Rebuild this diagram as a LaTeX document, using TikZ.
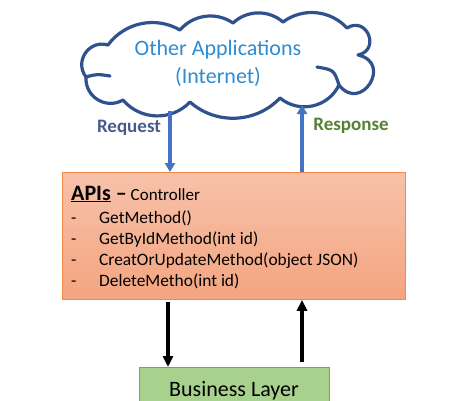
\documentclass[tikz,border=0pt]{standalone}
\usepackage{fontspec}
\setmainfont{Carlito}
\usetikzlibrary{arrows.meta, calc, positioning}
\definecolor{CloudLine}{RGB}{47,82,143}
\definecolor{CloudText}{RGB}{46,140,210}
\definecolor{ReqBlue}{RGB}{68,114,196}
\definecolor{ReqText}{RGB}{72,92,140}
\definecolor{RespGreen}{RGB}{84,130,53}
\definecolor{ApiTop}{RGB}{247,194,170}
\definecolor{ApiBottom}{RGB}{244,164,128}
\definecolor{ApiLine}{RGB}{240,138,75}
\definecolor{BizFill}{RGB}{169,209,142}
\definecolor{BizLine}{RGB}{112,173,71}
\begin{document}
\begin{tikzpicture}[x=1pt, y=-1pt,
    puff/.style={to path={.. controls ($(\tikztostart)!2/3*tan(#1/2)/sin(#1)!-#1:(\tikztotarget)$) and ($(\tikztotarget)!2/3*tan(#1/2)/sin(#1)!#1:(\tikztostart)$) .. (\tikztotarget)}},
    cloudline/.style={color=CloudLine, line width=3.2pt, line cap=round, line join=round},
    bluearrow/.style={color=ReqBlue, line width=3.5pt, -{Triangle[width=10pt,length=9pt]}},
    blackarrow/.style={color=black, line width=3.2pt, -{Triangle[width=10pt,length=11pt]}},
    method/.style={anchor=base west, inner sep=0, font=\fontsize{17.4}{20}\selectfont}]
    \useasboundingbox (0,0) rectangle (450,400);
    \coordinate (c1) at (86,77);
    \coordinate (c2) at (123,100);
    \coordinate (c3) at (190,102);
    \coordinate (c4) at (280,98);
    \coordinate (c5) at (339,85);
    \coordinate (c6) at (358,55);
    \coordinate (c7) at (347,28);
    \coordinate (c8) at (283,22);
    \coordinate (c9) at (233,23);
    \coordinate (c10) at (180,30);
    \coordinate (c11) at (108,45);
    \draw[cloudline, fill=white] (c1) to[puff=62] (c2) to[puff=48] (c3) to[puff=44] (c4) to[puff=52] (c5)
        to[puff=110] (c6) to[puff=100] (c7) to[puff=42] (c8) to[puff=42] (c9) to[puff=42] (c10)
        to[puff=42] (c11) to[puff=72] (c1) -- cycle;
    \draw[cloudline] (c1) .. controls (97,74) .. (110,76);
    \draw[cloudline] (c5) .. controls (334,70) .. (317,67);
    \node[color=CloudText, align=center, font=\fontsize{22}{28}\selectfont] (apps) at (218,63) {Other Applications\\(Internet)};
    \node[rectangle, draw=ApiLine, top color=ApiTop, bottom color=ApiBottom, line width=0.8pt,
        minimum width=343pt, minimum height=127pt, anchor=north west, inner sep=0] (apis) at (62,172) {};
    \node[method] (apisTitle) at (71,200) {{\fontsize{22}{24}\selectfont\underline{\textbf{APIs}} \textbf{--}} {\fontsize{17}{18}\selectfont Controller}};
    \foreach \m [count=\i] in {GetMethod(), GetByIdMethod(int id), CreatOrUpdateMethod(object JSON), DeleteMetho(int id)} {
        \node[method] (dash\i) at (71,202+21*\i) {-};
        \node[method] (m\i) at (99,202+21*\i) {\m};
    }
    \node[rectangle, draw=BizLine, fill=BizFill, line width=0.8pt, minimum width=190pt, minimum height=50pt,
        anchor=north west, inner sep=0] (biz) at (139,367) {};
    \node[font=\fontsize{22}{24}\selectfont, anchor=base] (bizText) at (234,396) {Business Layer};
    \coordinate (reqTop) at (170,111);
    \coordinate (respTop) at (302,105);
    \draw[bluearrow] (reqTop) -- (reqTop |- apis.north);
    \draw[bluearrow] (respTop |- apis.north) -- (respTop);
    \node[color=ReqText, font=\bfseries\fontsize{19}{22}\selectfont] (request) at (129,128) {Request};
    \node[color=RespGreen, font=\bfseries\fontsize{19}{22}\selectfont] (response) at (351,126) {Response};
    \coordinate (bizIn) at (168,302);
    \coordinate (bizOut) at (302,362);
    \draw[blackarrow] (bizIn) -- (bizIn |- biz.north);
    \draw[blackarrow] (bizOut) -- (bizOut |- apis.south);
\end{tikzpicture}
\end{document}
